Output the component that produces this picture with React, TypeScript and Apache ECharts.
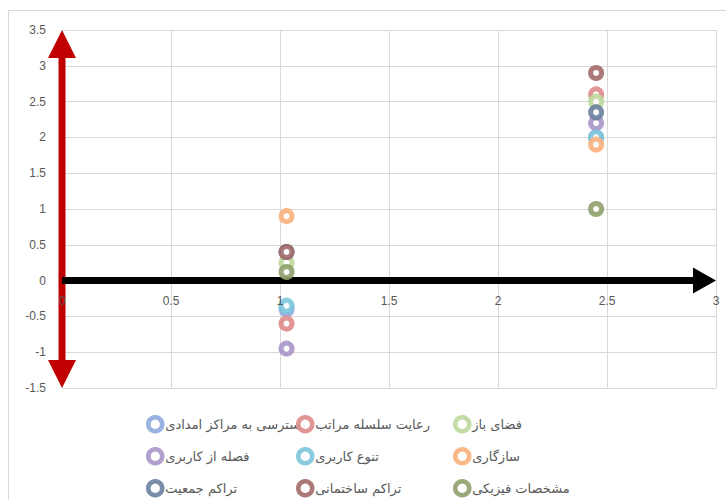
import React, { useEffect, useRef } from "react";
import * as echarts from "echarts";

const seriesNames = [
  "دسترسی به مراکز امدادی",
  "رعایت سلسله مراتب",
  "فضای باز",
  "فصله از کاربری",
  "تنوع کاربری",
  "سازگاری",
  "تراکم جمعیت",
  "تراکم ساختمانی",
  "مشخصات فیزیکی",
];
const seriesColors = [
  "#8EAADB",
  "#DE8A88",
  "#BDD79A",
  "#A995C9",
  "#7CC5DB",
  "#FAB07B",
  "#6A7F9F",
  "#A36A6A",
  "#8FA06A",
];
const xValues = [1.03, 2.45];
const accessValues = [-0.4, 2.0];
const hierarchyValues = [-0.6, 2.6];
const openSpaceValues = [0.25, 2.5];
const distanceValues = [-0.95, 2.2];
const diversityValues = [-0.35, 2.0];
const compatibilityValues = [0.9, 1.9];
const populationValues = [0.4, 2.35];
const buildingValues = [0.4, 2.9];
const physicalValues = [0.12, 1.0];
const allValues = [
  accessValues,
  hierarchyValues,
  openSpaceValues,
  distanceValues,
  diversityValues,
  compatibilityValues,
  populationValues,
  buildingValues,
  physicalValues,
];
const xTicks = { min: 0, max: 3, interval: 0.5 };
const yTicks = { min: -1.5, max: 3.5, interval: 0.5 };

export default function App() {
  const ref = useRef<HTMLDivElement>(null);
  useEffect(() => {
    if (!ref.current) return;
    const chart = echarts.init(ref.current, undefined, { renderer: "svg" });
    const labelColor = "#595959";
    const font = "'Liberation Sans', Arial, sans-serif";
    const colLeft = [146, 296, 453];
    const rowTop = [415, 447, 479];
    const legends = seriesNames.map((name, i) => ({
      orient: "horizontal",
      left: colLeft[i % 3],
      top: rowTop[Math.floor(i / 3)],
      itemWidth: 14,
      itemHeight: 14,
      itemGap: 0,
      padding: 0,
      selectedMode: false,
      data: [
        {
          name,
          icon: "circle",
          itemStyle: { color: "#fff", borderColor: seriesColors[i], borderWidth: 4.5 },
        },
      ],
      textStyle: { color: labelColor, fontSize: 13, fontFamily: "'DejaVu Sans', sans-serif", padding: [0, 0, 0, -2] },
    }));
    const xBase = {
      type: "value",
      min: xTicks.min,
      max: xTicks.max,
      interval: xTicks.interval,
      axisLine: { show: false, onZero: false },
      axisTick: { show: false },
    };
    chart.setOption({
      animation: false,
      grid: { left: 62, right: 10, top: 30, bottom: 112 },
      xAxis: [
        {
          ...xBase,
          axisLabel: { show: false },
          splitLine: { lineStyle: { color: "#D9D9D9" } },
        },
        {
          ...xBase,
          position: "bottom",
          z: 5,
          axisLabel: { color: labelColor, fontSize: 12, fontFamily: font, margin: 14 },
          splitLine: { show: false },
        },
      ],
      yAxis: {
        type: "value",
        min: yTicks.min,
        max: yTicks.max,
        interval: yTicks.interval,
        axisLine: { show: false, onZero: false },
        axisTick: { show: false },
        axisLabel: { color: labelColor, fontSize: 12, fontFamily: font, margin: 16 },
        splitLine: { lineStyle: { color: "#D9D9D9" } },
      },
      legend: legends,
      series: seriesNames.map((name, i) => ({
        name,
        type: "scatter",
        xAxisIndex: 0,
        symbol: "circle",
        symbolSize: 11,
        z: 3,
        itemStyle: { color: "#fff", borderColor: seriesColors[i], borderWidth: 5, opacity: 0.9 },
        data: xValues.map((x, k) => [x, allValues[i][k]]),
      })),
    });
    const conv = (p: number[]) => chart.convertToPixel({ xAxisIndex: 0, yAxisIndex: 0 }, p) as number[];
    const o = conv([xTicks.min, 0]);
    const xe = conv([xTicks.max, 0]);
    const yt = conv([0, yTicks.max]);
    const yb = conv([0, yTicks.min]);
    const rx = yt[0];
    const sw = 3.5, hw = 14, hl = 28;
    const red = [
      [rx, yt[1]], [rx + hw, yt[1] + hl], [rx + sw, yt[1] + hl], [rx + sw, yb[1] - hl],
      [rx + hw, yb[1] - hl], [rx, yb[1]], [rx - hw, yb[1] - hl], [rx - sw, yb[1] - hl],
      [rx - sw, yt[1] + hl], [rx - hw, yt[1] + hl],
    ];
    const by = o[1];
    const bsw = 3.5, bhw = 13, bhl = 23;
    const black = [
      [o[0], by - bsw], [xe[0] - bhl, by - bsw], [xe[0] - bhl, by - bhw], [xe[0], by],
      [xe[0] - bhl, by + bhw], [xe[0] - bhl, by + bsw], [o[0], by + bsw],
    ];
    chart.setOption({
      xAxis: [{}, { offset: -(yb[1] - o[1]) }],
      graphic: [
        { type: "polygon", z: 1, shape: { points: red }, style: { fill: "#C00000" }, silent: true },
        { type: "polygon", z: 1, shape: { points: black }, style: { fill: "#000" }, silent: true },
      ],
    });
    return () => chart.dispose();
  }, []);
  return (
    <div style={{ position: "absolute", left: 0, top: 0, width: 726, height: 500, overflow: "hidden", background: "#fff" }}>
      <div style={{ position: "absolute", left: 8, top: 10, width: 740, height: 520, border: "1px solid #D9D9D9" }} />
      <div ref={ref} style={{ position: "absolute", left: 0, top: 0, width: 726, height: 500 }} />
    </div>
  );
}
